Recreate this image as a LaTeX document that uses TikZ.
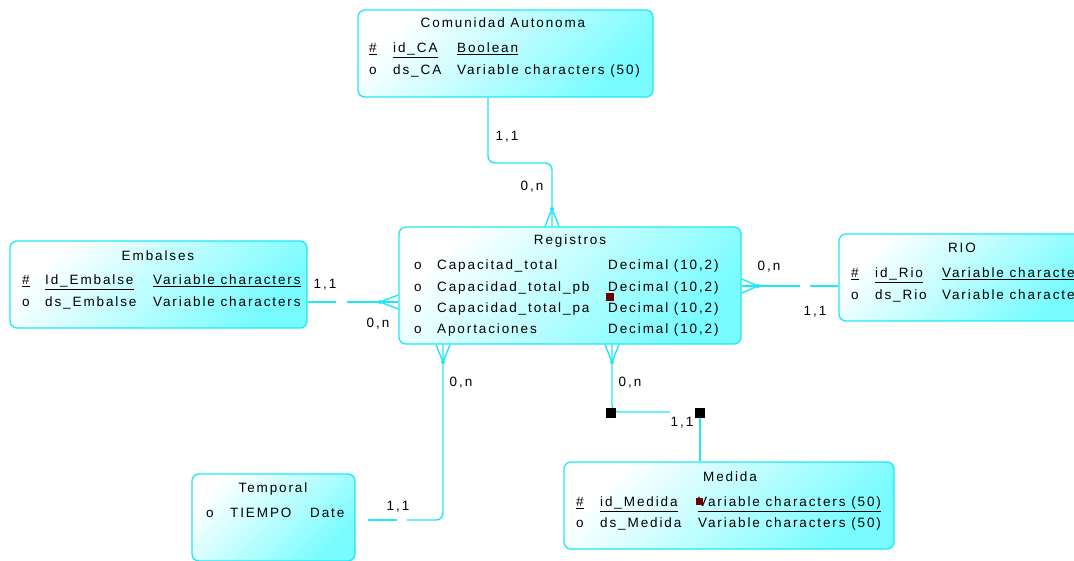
\documentclass[tikz,border=0pt]{standalone}
\usepackage{fontspec}
\newfontfamily\erfont[LetterSpace=14]{Liberation Sans}
\usetikzlibrary{calc}
\definecolor{erline}{RGB}{30,232,245}
\definecolor{erfill}{RGB}{120,252,255}
\definecolor{selred}{RGB}{110,0,0}
\tikzset{
  entity/.style={draw=erline,line width=1.3pt,rounded corners=7pt,inner sep=0pt,top color=white,bottom color=erfill,shading angle=45},
  title/.style={anchor=base,inner sep=0pt,font=\erfont\fontsize{13.5}{15}\selectfont},
  attr/.style={anchor=base west,inner sep=0pt,font=\erfont\fontsize{13.5}{15}\selectfont},
  card/.style={inner sep=0pt,font=\erfont\fontsize{13.5}{15}\selectfont},
  link/.style={draw=erline,line width=1.4pt,rounded corners=7pt},
  handle/.style={fill=black,inner sep=0pt,minimum size=10pt},
  selmark/.style={fill=selred,inner sep=0pt,minimum size=8pt}
}

\begin{document}
\begin{tikzpicture}[x=1pt,y=-1pt]
  % drawing parameters
  \pgfmathsetmacro{\bl}{4.8} % baseline shift of the text rows
  \pgfmathsetmacro{\cw}{7} % half width of a crow's foot
  \useasboundingbox (0,0) rectangle (1074,561);

  % Comunidad Autonoma
  \node[entity,minimum width=295pt,minimum height=87pt] (ca) at (505.5,53.5) {};
  \node[title] (catitle) at (503,23+\bl) {Comunidad Autonoma};
  \node[attr] (cak1) at (369,48+\bl) {\underline{\#}};
  \node[attr] (can1) at (393,48+\bl) {\underline{id\_CA}};
  \node[attr] (cat1) at (457,48+\bl) {\underline{Boolean}};
  \node[attr] (cak2) at (369,70+\bl) {o};
  \node[attr] (can2) at (393,70+\bl) {ds\_CA};
  \node[attr] (cat2) at (457,70+\bl) {Variable characters (50)};

  % Embalses
  \node[entity,minimum width=297pt,minimum height=87pt] (emb) at (158.5,284.5) {};
  \node[title] (embtitle) at (158,256+\bl) {Embalses};
  \node[attr] (embk1) at (22,280+\bl) {\underline{\#}};
  \node[attr] (embn1) at (45,280+\bl) {\underline{Id\_Embalse}};
  \node[attr] (embt1) at (153,280+\bl) {\underline{Variable characters}};
  \node[attr] (embk2) at (22,302+\bl) {o};
  \node[attr] (embn2) at (45,302+\bl) {ds\_Embalse};
  \node[attr] (embt2) at (153,302+\bl) {Variable characters};

  % Registros
  \node[entity,minimum width=342pt,minimum height=117pt] (reg) at (570,285.5) {};
  \node[title] (regtitle) at (570,240+\bl) {Registros};
  \node[attr] (regk1) at (414,265+\bl) {o};
  \node[attr] (regn1) at (437,265+\bl) {Capacitad\_total};
  \node[attr] (regt1) at (608,265+\bl) {Decimal (10,2)};
  \node[attr] (regk2) at (414,287+\bl) {o};
  \node[attr] (regn2) at (437,287+\bl) {Capacidad\_total\_pb};
  \node[attr] (regt2) at (608,287+\bl) {Decimal (10,2)};
  \node[attr] (regk3) at (414,308+\bl) {o};
  \node[attr] (regn3) at (437,308+\bl) {Capacidad\_total\_pa};
  \node[attr] (regt3) at (608,308+\bl) {Decimal (10,2)};
  \node[attr] (regk4) at (414,329+\bl) {o};
  \node[attr] (regn4) at (437,329+\bl) {Aportaciones};
  \node[attr] (regt4) at (608,329+\bl) {Decimal (10,2)};
  \node[selmark] (regsel) at (610,297) {};

  % RIO
  \node[entity,minimum width=246pt,minimum height=87pt] (rio) at (962,277.5) {};
  \node[title] (riotitle) at (962,248+\bl) {RIO};
  \node[attr] (riok1) at (851,273+\bl) {\underline{\#}};
  \node[attr] (rion1) at (875,273+\bl) {\underline{id\_Rio}};
  \node[attr] (riot1) at (942,273+\bl) {\underline{Variable characters}};
  \node[attr] (riok2) at (851,295+\bl) {o};
  \node[attr] (rion2) at (875,295+\bl) {ds\_Rio};
  \node[attr] (riot2) at (942,295+\bl) {Variable characters};

  % Temporal
  \node[entity,minimum width=163pt,minimum height=87pt] (temp) at (273.5,517.5) {};
  \node[title] (temptitle) at (273,488+\bl) {Temporal};
  \node[attr] (tempk1) at (206,513+\bl) {o};
  \node[attr] (tempn1) at (230,513+\bl) {TIEMPO};
  \node[attr] (tempt1) at (310,513+\bl) {Date};

  % Medida
  \node[entity,minimum width=330pt,minimum height=87pt] (med) at (729,505.5) {};
  \node[title] (medtitle) at (730,477+\bl) {Medida};
  \node[attr] (medk1) at (576,502+\bl) {\underline{\#}};
  \node[attr] (medn1) at (600,502+\bl) {\underline{id\_Medida}};
  \node[attr] (medt1) at (698,502+\bl) {\underline{Variable characters (50)}};
  \node[attr] (medk2) at (576,523+\bl) {o};
  \node[attr] (medn2) at (600,523+\bl) {ds\_Medida};
  \node[attr] (medt2) at (698,523+\bl) {Variable characters (50)};
  \node[selmark,minimum size=7pt] (medsel) at (699,501) {};

  % Comunidad Autonoma - Registros
  \draw[link] (ca.south -| 488,0) -- (488,163) -- (552,163) -- (reg.north -| 552,0);
  \draw[link] (552,209) -- (reg.north -| 552-\cw,0) (552,209) -- (reg.north -| 552+\cw,0);
  \fill[erline] (552,209) circle (2pt);
  \node[card] (cacard) at (507,137) {1,1};
  \node[card] (regcard1) at (532,187) {0,n};

  % Embalses - Registros
  \draw[link] (emb.east |- 0,302) -- (336,302);
  \draw[link] (347,302) -- (reg.west |- 0,302);
  \draw[link] (380,302) -- (reg.west |- 0,302-\cw) (380,302) -- (reg.west |- 0,302+\cw);
  \fill[erline] (380,302) circle (2pt);
  \node[card] (embcard) at (325,285) {1,1};
  \node[card] (regcard2) at (378,324) {0,n};

  % RIO - Registros
  \draw[link] (reg.east |- 0,286) -- (800,286);
  \draw[link] (810,286) -- (rio.west |- 0,286);
  \draw[link] (758,286) -- (reg.east |- 0,286-\cw) (758,286) -- (reg.east |- 0,286+\cw);
  \fill[erline] (758,286) circle (2pt);
  \node[card] (regcard3) at (769,267) {0,n};
  \node[card] (riocard) at (815,312) {1,1};

  % Temporal - Registros
  \draw[link] (reg.south -| 443,0) -- (443,520) -- (407,520);
  \draw[link] (397,520) -- ($(temp.east |- 0,520)+(12,0)$);
  \draw[link] (443,362) -- (reg.south -| 443-\cw,0) (443,362) -- (reg.south -| 443+\cw,0);
  \fill[erline] (443,362) circle (2pt);
  \node[card] (regcard4) at (461,383) {0,n};
  \node[card] (tempcard) at (398,507) {1,1};

  % Medida - Registros
  \draw[link] (reg.south -| 612,0) -- (612,412) -- (670,412);
  \draw[link] (700,416) -- (med.north -| 700,0);
  \draw[link] (612,362) -- (reg.south -| 612-\cw,0) (612,362) -- (reg.south -| 612+\cw,0);
  \fill[erline] (612,362) circle (2pt);
  \node[handle] (h1) at (611,412.5) {};
  \node[handle] (h2) at (700,412.5) {};
  \node[card] (regcard5) at (630,383) {0,n};
  \node[card] (medcard) at (682,423) {1,1};
\end{tikzpicture}
\end{document}
